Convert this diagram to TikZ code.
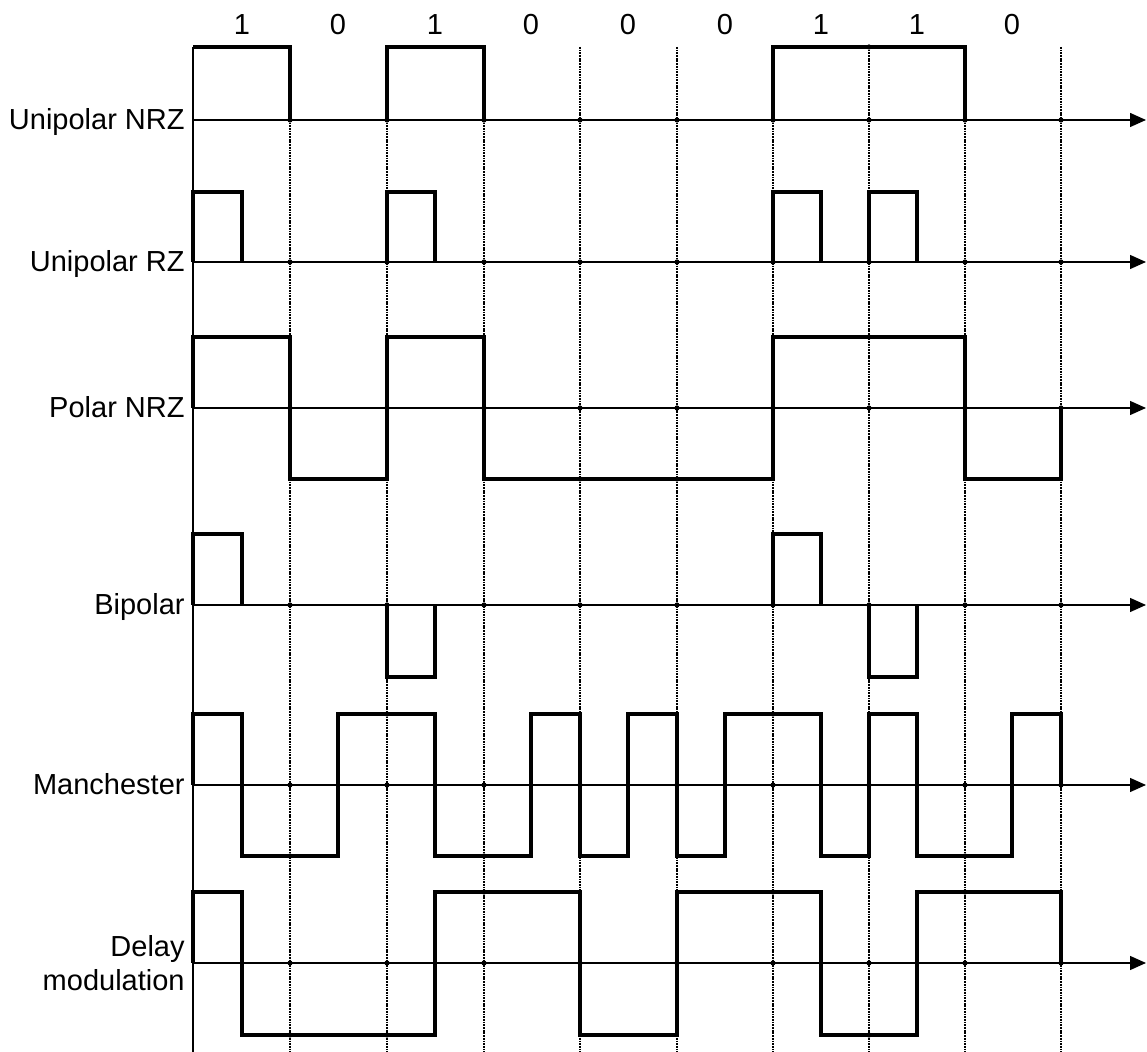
\documentclass[tikz,border=0pt]{standalone}
\usepackage{fontspec}
\setmainfont{Liberation Sans}
\usetikzlibrary{arrows.meta}
\begin{document}
\begin{tikzpicture}[x=0.5pt,y=-0.5pt,
  wave/.style={line width=1.8pt, line join=miter},
  axisline/.style={line width=0.7pt,-{Triangle[length=8pt,width=7pt]}},
  gridline/.style={line width=0.85pt, dash pattern=on 0.9pt off 0.45pt},
  lbl/.style={font=\fontsize{14.5}{16}\selectfont, anchor=base east, inner sep=0pt, align=right},
  bit/.style={font=\fontsize{14.5}{16}\selectfont, anchor=base, inner sep=0pt},
  gdot/.style={circle, fill, inner sep=0pt, minimum size=2.6pt}]
\useasboundingbox (0,0) rectangle (1147,1052);

% left axis
\coordinate (ltop) at (193,47);
\coordinate (lbot) at (193,1052);
\draw[line width=0.7pt] (ltop) -- (lbot);

% dashed bit boundaries
\foreach \x [count=\i] in {290,387,484,580,677,773,869,965,1061}{
  \coordinate (gt\i) at (\x,47);
  \coordinate (gb\i) at (\x,1052);
  \draw[gridline] (gt\i) -- (gb\i);
}

% bit labels
\foreach \x/\b [count=\i] in {242/1,338/0,435/1,531/0,628/0,725/0,821/1,917/1,1012/0}{
  \node[bit] (bit\i) at (\x,35) {\b};
}

% axes
\foreach \y/\n in {120/a,262/b,408/c,605/d,785/e,963/f}{
  \coordinate (\n s) at (193,\y);
  \coordinate (\n e) at (1146,\y);
  \draw[axisline] (\n s) -- (\n e);
  \foreach \x in {290,387,484,580,677,773,869,965,1061}{
    \node[gdot] at (\x,\y) {};
  }
}

% labels
\node[lbl] (l1) at (185,130) {Unipolar NRZ};
\node[lbl] (l2) at (185,272) {Unipolar RZ};
\node[lbl] (l3) at (185,418) {Polar NRZ};
\node[lbl] (l4) at (185,615) {Bipolar};
\node[lbl] (l5) at (185,795) {Manchester};
\node[lbl, anchor=east] (l6) at (185,963) {Delay\\[1pt]modulation};

% Unipolar NRZ
\draw[wave] (193,47) -- (290,47) -- (290,120);
\draw[wave] (387,120) -- (387,47) -- (484,47) -- (484,120);
\draw[wave] (773,120) -- (773,47) -- (965,47) -- (965,120);

% Unipolar RZ
\foreach \x/\h in {193/242,387/435,773/821,869/917}{
  \draw[wave] (\x,262) -- (\x,192) -- (\h,192) -- (\h,262);
}

% Polar NRZ
\draw[wave] (193,408) -- (193,337) -- (290,337) -- (290,479) -- (387,479) -- (387,337)
  -- (484,337) -- (484,479) -- (773,479) -- (773,337) -- (965,337) -- (965,479)
  -- (1061,479) -- (1061,408);

% Bipolar
\draw[wave] (193,605) -- (193,534) -- (242,534) -- (242,605);
\draw[wave] (387,605) -- (387,677) -- (435,677) -- (435,605);
\draw[wave] (773,605) -- (773,534) -- (821,534) -- (821,605);
\draw[wave] (869,605) -- (869,677) -- (917,677) -- (917,605);

% Manchester
\draw[wave] (193,785) -- (193,714) -- (242,714) -- (242,856) -- (338,856) -- (338,714)
  -- (435,714) -- (435,856) -- (531,856) -- (531,714) -- (580,714) -- (580,856)
  -- (628,856) -- (628,714) -- (677,714) -- (677,856) -- (725,856) -- (725,714)
  -- (821,714) -- (821,856) -- (869,856) -- (869,714) -- (917,714) -- (917,856)
  -- (1012,856) -- (1012,714) -- (1061,714) -- (1061,785);

% Delay modulation
\draw[wave] (193,963) -- (193,892) -- (242,892) -- (242,1035) -- (435,1035) -- (435,892)
  -- (580,892) -- (580,1035) -- (677,1035) -- (677,892) -- (821,892) -- (821,1035)
  -- (917,1035) -- (917,892) -- (1061,892) -- (1061,963);

% grid crossing dots on waveforms
\foreach \p in {(869,47),(869,337),(580,479),(677,479),
  (290,856),(387,714),(484,856),(773,714),(965,856),
  (290,1035),(387,1035),(484,892),(773,892),(869,1035),(965,892)}{
  \node[gdot] at \p {};
}
\end{tikzpicture}
\end{document}
